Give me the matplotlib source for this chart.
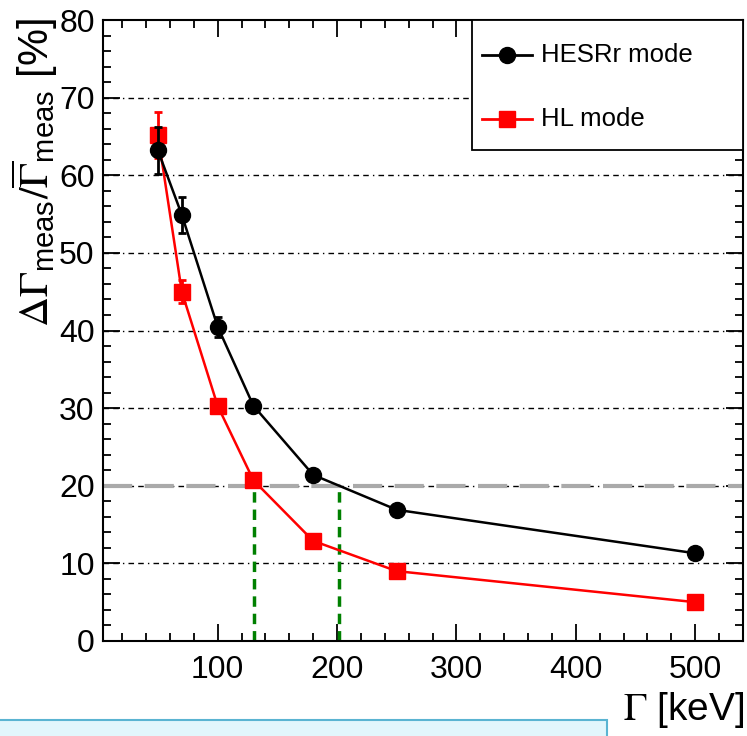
import numpy as np
import matplotlib
matplotlib.use("Agg")
import matplotlib.pyplot as plt
from matplotlib.patches import Rectangle
from matplotlib.lines import Line2D

plt.rcParams['font.family'] = ['Liberation Sans', 'DejaVu Sans']
plt.rcParams['mathtext.fontset'] = 'stix'

# data
gamma = [50, 70, 100, 130, 180, 250, 500]
hesr = [63.2, 54.9, 40.5, 30.3, 21.4, 16.9, 11.3]
hesr_err = [3.0, 2.3, 1.3, 0.8, 0.5, 0.4, 0.4]
hl = [65.2, 45.0, 30.3, 20.7, 12.9, 9.0, 5.0]
hl_err = [3.0, 1.5, 0.8, 0.6, 0.4, 0.3, 0.3]
cross_x = [130.5, 201.5]
limit = 20

fig = plt.figure(figsize=(7.47, 7.36), dpi=100)
ax = fig.add_axes([0.1379, 0.1291, 0.8567, 0.8437])

for yv in [10, 20, 30, 40, 50, 60, 70]:
    ax.axhline(yv, color='black', lw=1.0, ls=(0, (4, 3, 4, 3, 1, 3)), zorder=1)
ax.axhline(limit, color='#aaaaaa', lw=3.0, ls=(0, (7, 3)), zorder=2)
for xv in cross_x:
    ax.plot([xv, xv], [0, limit], color='#008000', lw=2.5, ls=(0, (3, 2)), zorder=2)

ax.errorbar(gamma, hl, yerr=hl_err, color='red', marker='s', ms=11.5, lw=1.8,
            elinewidth=2, capsize=3, capthick=2, zorder=4)
ax.errorbar(gamma, hesr, yerr=hesr_err, color='black', marker='o', ms=11.5, lw=1.8,
            elinewidth=2, capsize=3, capthick=2, zorder=5)

ax.set_xlim(4, 540)
ax.set_ylim(0, 80)
ax.set_xticks([100, 200, 300, 400, 500])
ax.set_xticks(np.arange(20, 541, 20), minor=True)
ax.set_yticks(np.arange(0, 81, 10))
ax.set_yticks(np.arange(0, 81, 2), minor=True)
ax.tick_params(which='both', direction='in', top=True, right=True, labelsize=23, width=1.3)
ax.tick_params(which='major', length=12, pad=6)
ax.tick_params(axis='x', which='major', pad=10)
ax.tick_params(which='minor', length=6)
for s in ax.spines.values():
    s.set_linewidth(1.5)

fig.text(0.046, 0.975,
         r'$\Delta\Gamma_{\mathregular{meas}}/\overline{\Gamma}_{\mathregular{meas}}$ [%]',
         rotation=90, ha='center', va='top', fontsize=30)
fig.text(0.997, 0.035, r'$\Gamma$ [keV]', ha='right', va='center', fontsize=28)

# legend box
lx0, ly0 = 472 / 747, 1 - 150 / 736
box = Rectangle((lx0, ly0), 0.9946 - lx0, 0.9728 - ly0, transform=fig.transFigure,
                facecolor='white', edgecolor='black', lw=1.3, zorder=10)
fig.add_artist(box)
rows = [(55, 'black', 'o', 'HESRr mode'), (119, 'red', 's', 'HL mode')]
for py, col, mk, lab in rows:
    yy = 1 - py / 736
    fig.add_artist(Line2D([482 / 747, 532 / 747], [yy, yy], transform=fig.transFigure,
                          color=col, lw=2, zorder=11))
    fig.add_artist(Line2D([507 / 747], [yy], transform=fig.transFigure, color=col,
                          marker=mk, ms=11.5, zorder=12))
    fig.text(541 / 747, yy, lab, ha='left', va='center', fontsize=18.5, zorder=12)

# light blue box at the bottom
fig.add_artist(Rectangle((-0.01, -0.01), 607 / 747 + 0.01, 16 / 736 + 0.01,
                         transform=fig.transFigure, facecolor='#e2f6fc',
                         edgecolor='#5ab4d2', lw=1.5, zorder=0))

fig.savefig('out.png', dpi=100)
